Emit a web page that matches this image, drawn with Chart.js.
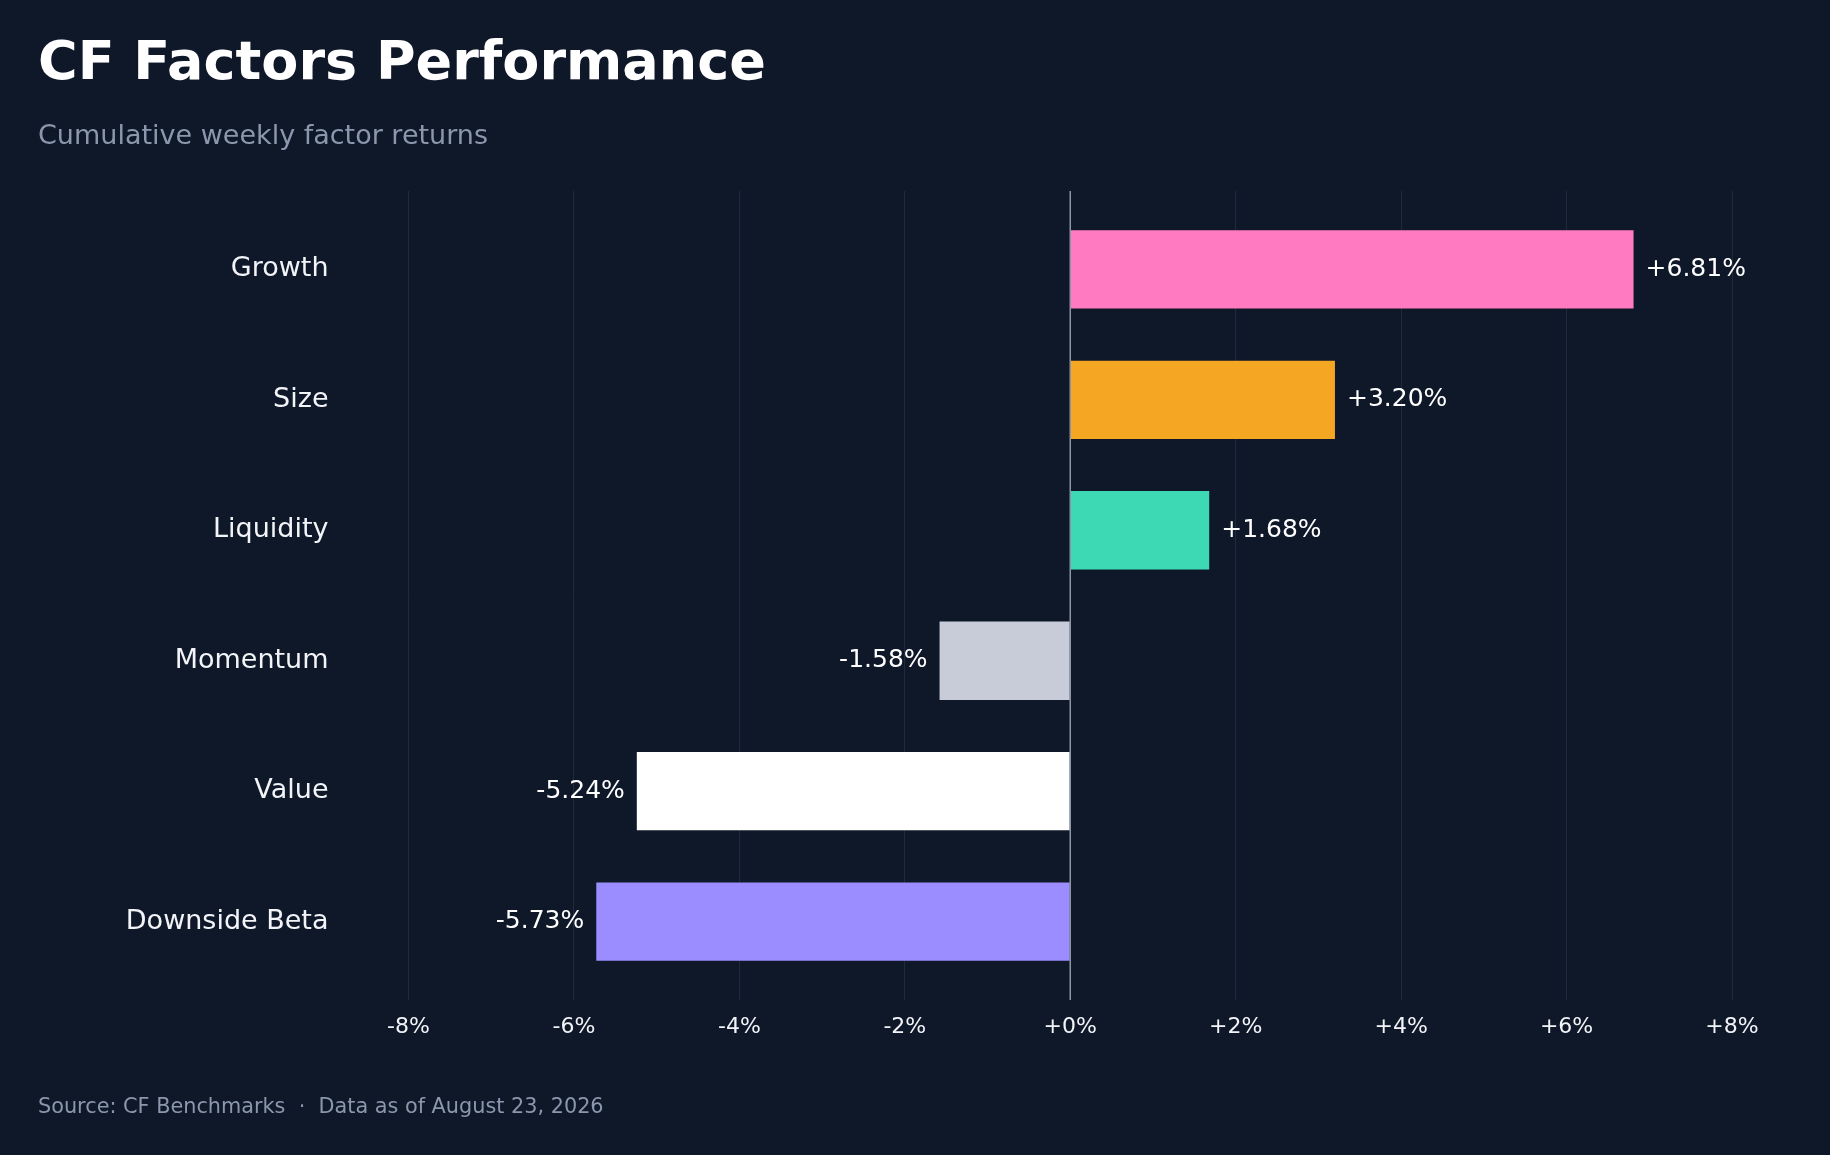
<!DOCTYPE html>
<html>
<head>
<meta charset="utf-8">
<script src="https://cdn.jsdelivr.net/npm/chart.js@4.4.1/dist/chart.umd.min.js"></script>
<style>
  html, body { margin: 0; padding: 0; background: #0f1829; }
  #wrap { position: relative; width: 1830px; height: 1155px; font-family: "DejaVu Sans", sans-serif; }
  #title { position: absolute; left: 38px; top: 34px; font-size: 54px; font-weight: bold; color: #ffffff; line-height: 1; }
  #subtitle { position: absolute; left: 38px; top: 121px; font-size: 27px; color: #8b97ad; line-height: 1; }
  #footer { position: absolute; left: 38px; top: 1096px; font-size: 20.8px; color: #8b97ad; line-height: 1; white-space: pre; }
  canvas { position: absolute; left: 0; top: 0; }
</style>
</head>
<body>
<div id="wrap">
  <canvas id="chart" width="1830" height="1155"></canvas>
  <div id="title">CF Factors Performance</div>
  <div id="subtitle">Cumulative weekly factor returns</div>
  <div id="footer">Source: CF Benchmarks  ·  Data as of August 23, 2026</div>
</div>
<script>
// facteurs et rendements (%)
const factors = ['Growth', 'Size', 'Liquidity', 'Momentum', 'Value', 'Downside Beta'];
const returns = [6.81, 3.20, 1.68, -1.58, -5.24, -5.73];
const barColors = ['#ff7ac0', '#f5a623', '#3dd9b4', '#c8ccd8', '#ffffff', '#9b8cff'];
const xTicks = [-8, -6, -4, -2, 0, 2, 4, 6, 8];

const fmt = (v) => (v >= 0 ? '+' : '') + v.toFixed(2) + '%';

// étiquettes de valeur au bout des barres + ligne zéro par-dessus
const valueLabels = {
  id: 'valueLabels',
  afterDatasetsDraw(chart) {
    const ctx = chart.ctx;
    const area = chart.chartArea;
    const xs = chart.scales.x;
    const x0 = xs.getPixelForValue(0);
    ctx.save();
    ctx.strokeStyle = '#8d96a6';
    ctx.lineWidth = 1.5;
    ctx.beginPath();
    ctx.moveTo(x0, area.top);
    ctx.lineTo(x0, area.bottom);
    ctx.stroke();

    ctx.font = '25px "DejaVu Sans"';
    ctx.fillStyle = '#ffffff';
    ctx.textBaseline = 'middle';
    chart.getDatasetMeta(0).data.forEach((bar, i) => {
      const v = returns[i];
      if (v >= 0) {
        ctx.textAlign = 'left';
        ctx.fillText(fmt(v), bar.x + 12, bar.y);
      } else {
        ctx.textAlign = 'right';
        ctx.fillText(fmt(v), bar.x - 12, bar.y);
      }
    });
    ctx.restore();
  }
};

new Chart(document.getElementById('chart'), {
  type: 'bar',
  data: {
    datasets: [{
      data: returns.map((v, i) => ({ x: v, y: i })),
      backgroundColor: barColors,
      borderWidth: 0,
      barPercentage: 0.6,
      categoryPercentage: 1.0,
    }],
  },
  options: {
    indexAxis: 'y',
    responsive: false,
    animation: false,
    devicePixelRatio: 1,
    layout: { padding: { left: 0, right: 98, top: 191, bottom: 95 } },
    plugins: { legend: { display: false }, tooltip: { enabled: false } },
    scales: {
      x: {
        type: 'linear',
        min: -8,
        max: 8,
        afterBuildTicks: (s) => { s.ticks = xTicks.map((v) => ({ value: v })); },
        afterFit: (s) => { s.height = 60; },
        border: { display: false },
        grid: { color: '#1f2a3d', lineWidth: 1, drawTicks: false },
        ticks: {
          color: '#f2f4f8',
          font: { family: 'DejaVu Sans', size: 22 },
          padding: 14,
          callback: (v) => (v >= 0 ? '+' : '') + v + '%',
        },
      },
      y: {
        type: 'linear',
        reverse: true,
        offset: false,
        min: -0.6,
        max: 5.6,
        afterBuildTicks: (s) => { s.ticks = factors.map((f, i) => ({ value: i })); },
        afterFit: (s) => { s.width = 408.5; },
        border: { display: false },
        grid: { display: false, drawTicks: false },
        ticks: {
          color: '#f2f4f8',
          font: { family: 'DejaVu Sans', size: 27 },
          padding: 80,
          callback: (v) => factors[v] ?? '',
        },
      },
    },
  },
  plugins: [valueLabels],
});
</script>
</body>
</html>
